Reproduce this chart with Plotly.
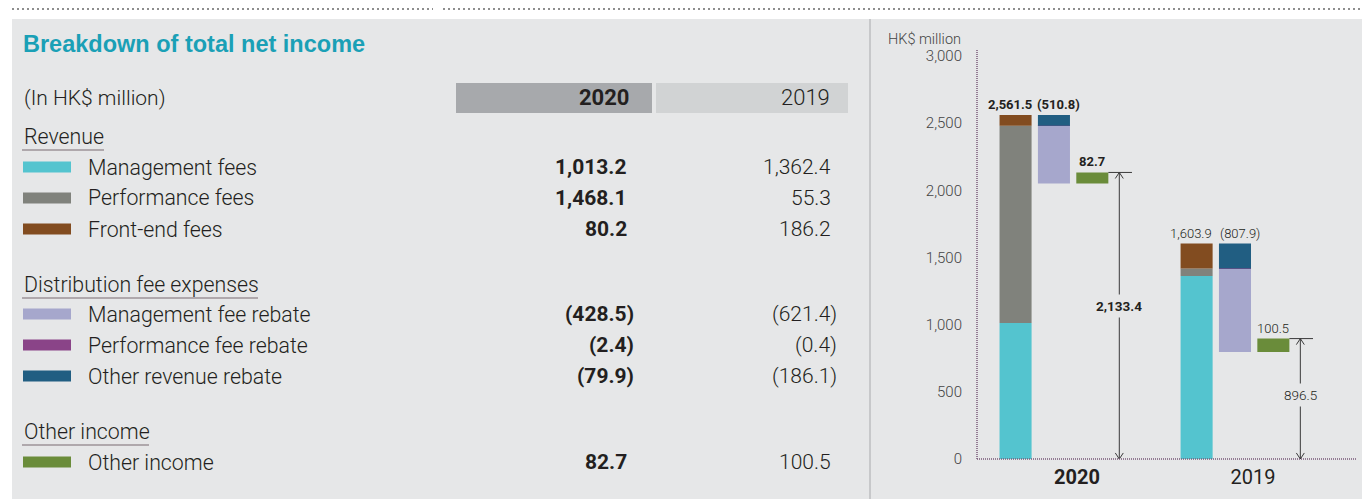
import plotly.graph_objects as go

#--------------------------------------------------------------------------------------------------------------
#                                                       Data
#--------------------------------------------------------------------------------------------------------------

years = ["2020", "2019"]
groups = ["Revenue", "Distribution fee expenses", "Other income"]
items = [
    "Management fees",
    "Performance fees",
    "Front-end fees",
    "Management fee rebate",
    "Performance fee rebate",
    "Other revenue rebate",
    "Other income",
]
item_group = [0, 0, 0, 1, 1, 1, 2]
values_2020 = [1013.2, 1468.1, 80.2, -428.5, -2.4, -79.9, 82.7]
values_2019 = [1362.4, 55.3, 186.2, -621.4, -0.4, -186.1, 100.5]
item_colors = ["#54C4CF", "#80827C", "#824C20", "#A6A7CC", "#8A4488", "#215E82", "#6A8C3A"]
y_ticks = [0, 500, 1000, 1500, 2000, 2500, 3000]

#--------------------------------------------------------------------------------------------------------------
#                                                  Layout helpers
#--------------------------------------------------------------------------------------------------------------

W, H = 1362, 499
PANEL = "#E6E7E8"
TEXT = "#231F20"
FONT = "Roboto"


def px(x):
    return x / W


def py(y):
    return 1 - y / H


def fmt(v):
    return f"({abs(v):,.1f})" if v < 0 else f"{v:,.1f}"


fig = go.Figure()
shapes = []
annotations = []

# page furniture
shapes.append(dict(type="rect", xref="paper", yref="paper", x0=px(12), x1=px(1362), y0=py(499), y1=py(19),
                   fillcolor=PANEL, line_width=0, layer="below"))
for a, b in [(12, 433), (443, 1362)]:
    shapes.append(dict(type="line", xref="paper", yref="paper", x0=px(a), x1=px(b), y0=py(9), y1=py(9),
                       line=dict(color="#8E8E8E", width=2, dash="2px,3px")))
shapes.append(dict(type="line", xref="paper", yref="paper", x0=px(870), x1=px(870), y0=py(19), y1=py(499),
                   line=dict(color="#BDBEC0", width=1.5)))

#--------------------------------------------------------------------------------------------------------------
#                                                  Left table
#--------------------------------------------------------------------------------------------------------------

annotations.append(dict(text="<b>Breakdown of total net income</b>", x=px(21), y=py(44), xref="paper", yref="paper",
                        xanchor="left", yanchor="middle", showarrow=False,
                        font=dict(family="Liberation Sans", size=23.5, color="#1AA0B6")))
annotations.append(dict(text="(In HK$ million)", x=px(22), y=py(98), xref="paper", yref="paper",
                        xanchor="left", yanchor="middle", showarrow=False,
                        font=dict(family=FONT, size=21, color=TEXT, weight=300)))

# year header boxes
shapes.append(dict(type="rect", xref="paper", yref="paper", x0=px(456), x1=px(652), y0=py(113), y1=py(83),
                   fillcolor="#A7A9AC", line_width=0))
shapes.append(dict(type="rect", xref="paper", yref="paper", x0=px(656), x1=px(848), y0=py(113), y1=py(83),
                   fillcolor="#D1D3D4", line_width=0))
annotations.append(dict(text="<b>2020</b>", x=px(632), y=py(98), xref="paper", yref="paper", xanchor="right",
                        yanchor="middle", showarrow=False, font=dict(family=FONT, size=22, color=TEXT)))
annotations.append(dict(text="2019", x=px(832), y=py(98), xref="paper", yref="paper", xanchor="right",
                        yanchor="middle", showarrow=False, font=dict(family=FONT, size=22, color=TEXT, weight=300)))

group_y = [136, 284, 431]
group_underline = [82, 236, 127]
row_y = [167, 198, 229, 314, 345, 376, 462]

for g, name in enumerate(groups):
    annotations.append(dict(text=name, x=px(22), y=py(group_y[g]), xref="paper", yref="paper", xanchor="left",
                            yanchor="middle", showarrow=False, font=dict(family=FONT, size=21.3, color=TEXT, weight=300)))
    shapes.append(dict(type="line", xref="paper", yref="paper", x0=px(22), x1=px(22 + group_underline[g]),
                       y0=py(group_y[g] + 14), y1=py(group_y[g] + 14), line=dict(color="#9C9399", width=1.5)))

for i, name in enumerate(items):
    yy = row_y[i]
    shapes.append(dict(type="rect", xref="paper", yref="paper", x0=px(23), x1=px(71), y0=py(yy + 5.5),
                       y1=py(yy - 5.5), fillcolor=item_colors[i], line_width=0))
    annotations.append(dict(text=name, x=px(86), y=py(yy), xref="paper", yref="paper", xanchor="left",
                            yanchor="middle", showarrow=False, font=dict(family=FONT, size=21.3, color=TEXT, weight=300)))
    v20, v19 = values_2020[i], values_2019[i]
    annotations.append(dict(text=f"<b>{fmt(v20)}</b>", x=px(636 if v20 < 0 else 629), y=py(yy), xref="paper",
                            yref="paper", xanchor="right", yanchor="middle", showarrow=False,
                            font=dict(family=FONT, size=21, color=TEXT)))
    annotations.append(dict(text=fmt(v19), x=px(839 if v19 < 0 else 833), y=py(yy), xref="paper",
                            yref="paper", xanchor="right", yanchor="middle", showarrow=False,
                            font=dict(family=FONT, size=21, color=TEXT, weight=300)))

#--------------------------------------------------------------------------------------------------------------
#                                                Waterfall chart
#--------------------------------------------------------------------------------------------------------------

SLOT = 0.212
BAR_W = 0.177
series = [values_2020, values_2019]

bar_x = {i: [] for i in range(len(items))}
bar_base = {i: [] for i in range(len(items))}
bar_h = {i: [] for i in range(len(items))}
arrow_x, arrow_y = [], []

for gi, vals in enumerate(series):
    bold = gi == 0
    total = sum(vals[:3])
    rebate_total = sum(vals[3:6])
    net = total + rebate_total + vals[6]

    running = 0
    for i in range(3):
        bar_x[i].append(gi - SLOT)
        bar_base[i].append(running)
        bar_h[i].append(vals[i])
        running += vals[i]

    running = total
    for i in [5, 4, 3]:
        bar_x[i].append(gi)
        bar_base[i].append(running + vals[i])
        bar_h[i].append(-vals[i])
        running += vals[i]

    bar_x[6].append(gi + SLOT)
    bar_base[6].append(total + rebate_total)
    bar_h[6].append(vals[6])

    def label(t, x, y, shift):
        annotations.append(dict(text=f"<b>{t}</b>" if bold else t, x=x, y=y, xref="x", yref="y",
                                xanchor="center", yanchor="bottom", yshift=1, xshift=shift, showarrow=False,
                                font=dict(family=FONT, size=13, color=TEXT, weight=None if bold else 300)))

    label(fmt(total), gi - SLOT, total, -6)
    label(fmt(rebate_total), gi, total, 5)
    label(fmt(vals[6]), gi + SLOT, net, 0)

    # net income arrow
    xa = gi + SLOT + 0.149
    dx, dy = 0.022, 45
    arrow_x += [xa, xa, None, xa - dx, xa, xa + dx, None, xa - dx, xa, xa + dx, None,
                gi + SLOT + BAR_W / 2, xa + 0.07, None]
    arrow_y += [0, net, None, net - dy, net, net - dy, None, dy, 0, dy, None, net, net, None]
    annotations.append(dict(text=f"<b>{fmt(net)}</b>" if bold else fmt(net), x=xa, y=net * 0.535, xref="x",
                            yref="y", xanchor="center", yanchor="middle", showarrow=False, bgcolor=PANEL,
                            borderpad=3, font=dict(family=FONT, size=13.5, color=TEXT, weight=None if bold else 300)))

for i, name in enumerate(items):
    fig.add_trace(go.Bar(x=bar_x[i], y=bar_h[i], base=bar_base[i], width=BAR_W, name=name,
                         marker=dict(color=item_colors[i], line_width=0), showlegend=False))

fig.add_trace(go.Scatter(x=arrow_x, y=arrow_y, mode="lines", line=dict(color="#3A3A3A", width=1),
                         showlegend=False, hoverinfo="skip", cliponaxis=False))

# dotted axis lines
shapes.append(dict(type="line", xref="x domain", yref="paper", x0=0, x1=0, y0=py(459), y1=py(49),
                   line=dict(color="#7A5A78", width=1.5, dash="1px,1px")))
shapes.append(dict(type="line", xref="x domain", yref="paper", x0=0, x1=1, y0=py(459), y1=py(459),
                   line=dict(color="#7A5A78", width=1.5, dash="1px,1px")))

annotations.append(dict(text="HK$ million", x=px(886), y=py(40), xref="paper", yref="paper", xanchor="left",
                        yanchor="middle", showarrow=False, font=dict(family=FONT, size=14.5, color="#444444", weight=300)))

fig.update_layout(
    width=W, height=H,
    margin=dict(l=0, r=0, t=0, b=0),
    paper_bgcolor="white",
    plot_bgcolor="rgba(0,0,0,0)",
    barmode="overlay",
    shapes=shapes,
    annotations=annotations,
    xaxis=dict(domain=[px(977), px(1357)], range=[-0.425, 1.674], showgrid=False, zeroline=False,
               showline=False, ticks="", tickvals=[0.127, 1.099], ticktext=["<b>2020</b>", "2019"],
               tickfont=dict(family=FONT, size=20, color=TEXT), ticklabelstandoff=4, automargin=False),
    yaxis=dict(domain=[py(459), py(50)], range=[0, 3045], showgrid=False, zeroline=False, showline=False,
               ticks="", tickvals=y_ticks, tickformat=",", ticklabelstandoff=14, automargin=False,
               tickfont=dict(family=FONT, size=15, color="#444444", weight=300)),
)

# the page body has an 8px default margin; remove it so the figure sits at the top-left corner
page_fix = "document.body.style.margin='0';document.body.style.overflow='hidden';"
fig.write_html("out.html", config={"displayModeBar": False}, post_script=page_fix)
